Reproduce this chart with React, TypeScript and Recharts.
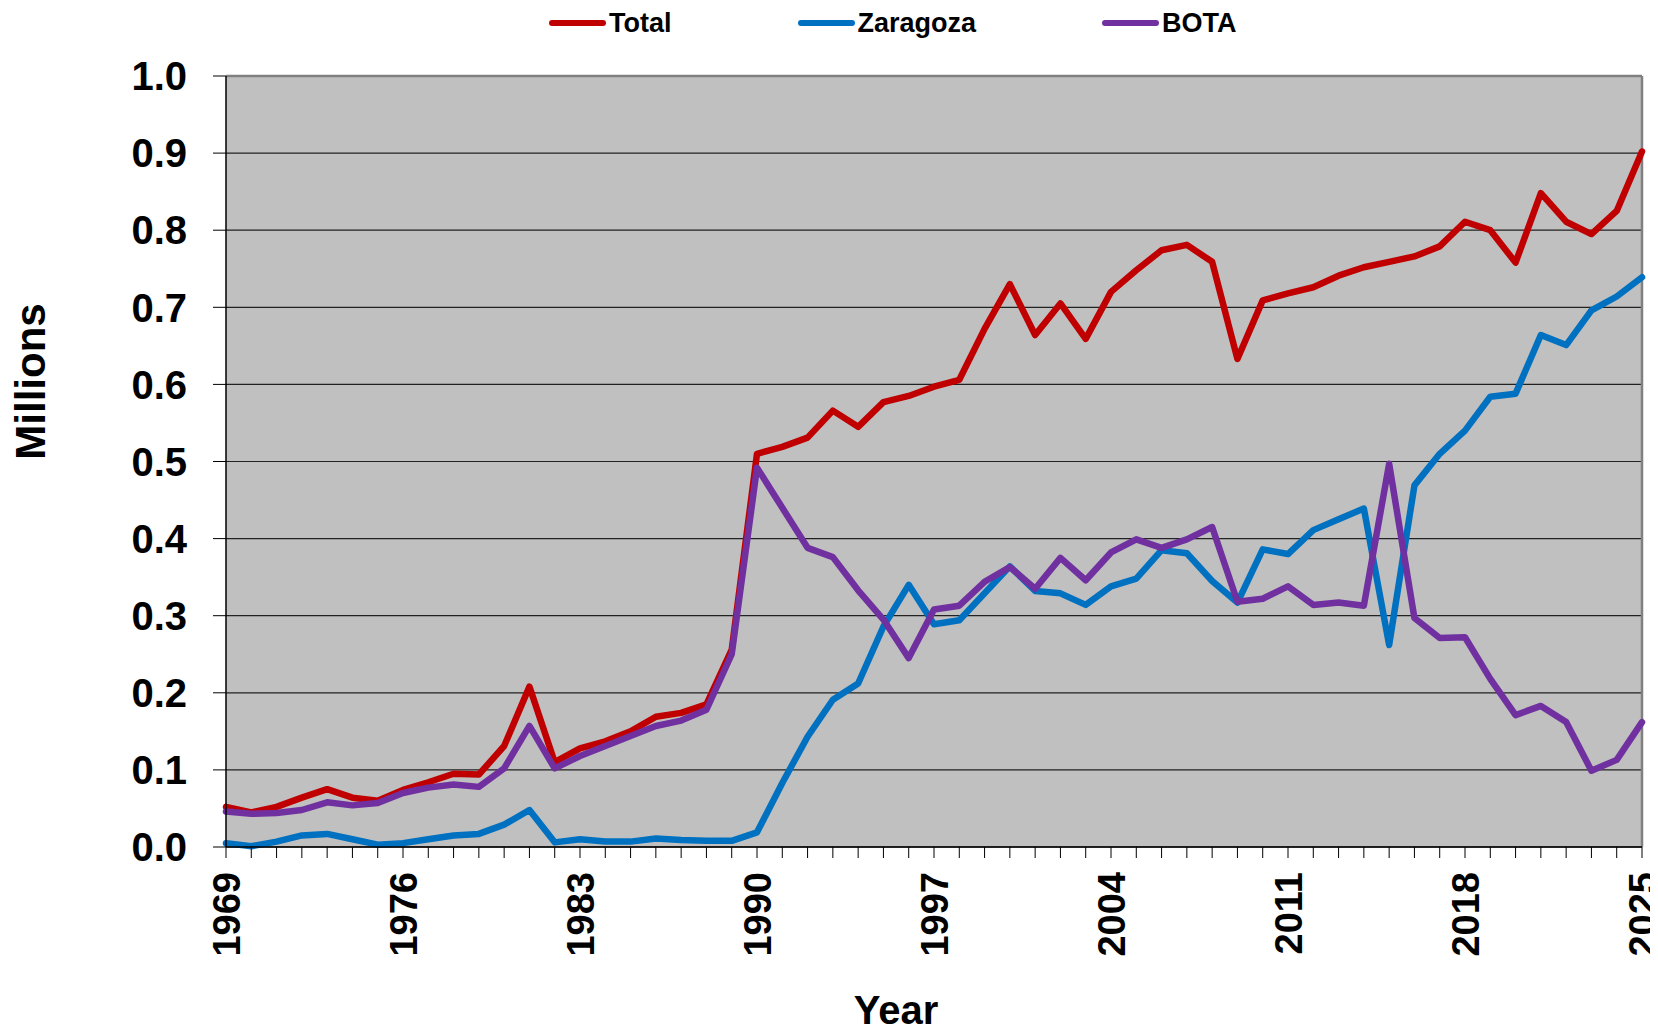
import React from 'react';
import { LineChart, Line, XAxis, YAxis, CartesianGrid, Legend, ReferenceLine } from 'recharts';

const years = [
  1969, 1970, 1971, 1972, 1973, 1974, 1975, 1976, 1977, 1978, 1979,
  1980, 1981, 1982, 1983, 1984, 1985, 1986, 1987, 1988, 1989,
  1990, 1991, 1992, 1993, 1994, 1995, 1996, 1997, 1998, 1999,
  2000, 2001, 2002, 2003, 2004, 2005, 2006, 2007, 2008, 2009,
  2010, 2011, 2012, 2013, 2014, 2015, 2016, 2017, 2018, 2019,
  2020, 2021, 2022, 2023, 2024, 2025,
];

const total = [
  0.052, 0.045, 0.052, 0.064, 0.075, 0.064, 0.060, 0.074, 0.084, 0.095, 0.094,
  0.131, 0.208, 0.110, 0.128, 0.137, 0.150, 0.169, 0.174, 0.185, 0.256,
  0.510, 0.519, 0.531, 0.566, 0.545, 0.577, 0.585, 0.597, 0.606, 0.672,
  0.730, 0.664, 0.705, 0.659, 0.720, 0.748, 0.774, 0.781, 0.759, 0.633,
  0.709, 0.718, 0.726, 0.741, 0.752, 0.759, 0.766, 0.779, 0.811, 0.800,
  0.758, 0.848, 0.811, 0.795, 0.825, 0.902,
];

const zaragoza = [
  0.005, 0.001, 0.007, 0.015, 0.017, 0.010, 0.003, 0.005, 0.010, 0.015, 0.017,
  0.029, 0.048, 0.006, 0.010, 0.007, 0.007, 0.011, 0.009, 0.008, 0.008,
  0.019, 0.083, 0.143, 0.191, 0.212, 0.286, 0.340, 0.289, 0.294, 0.329,
  0.364, 0.332, 0.329, 0.314, 0.338, 0.348, 0.385, 0.381, 0.345, 0.317,
  0.386, 0.380, 0.411, 0.425, 0.439, 0.262, 0.469, 0.510, 0.540, 0.584,
  0.588, 0.664, 0.651, 0.696, 0.714, 0.739,
];

const bota = [
  0.046, 0.043, 0.044, 0.048, 0.058, 0.054, 0.057, 0.070, 0.077, 0.081, 0.078,
  0.102, 0.157, 0.102, 0.118, 0.131, 0.144, 0.157, 0.164, 0.178, 0.250,
  0.492, 0.440, 0.388, 0.376, 0.333, 0.295, 0.245, 0.308, 0.313, 0.344,
  0.363, 0.335, 0.375, 0.346, 0.382, 0.399, 0.388, 0.399, 0.415, 0.318,
  0.322, 0.338, 0.314, 0.317, 0.313, 0.497, 0.297, 0.271, 0.272, 0.218,
  0.171, 0.183, 0.162, 0.099, 0.113, 0.162,
];

const labeledYears = [1969, 1976, 1983, 1990, 1997, 2004, 2011, 2018, 2025];
const yTicks = [0, 0.1, 0.2, 0.3, 0.4, 0.5, 0.6, 0.7, 0.8, 0.9, 1.0];

const seriesInfo = [
  { key: 'total', name: 'Total', color: '#C00000' },
  { key: 'zaragoza', name: 'Zaragoza', color: '#0070C0' },
  { key: 'bota', name: 'BOTA', color: '#7030A0' },
];

const data = years.map((year, i) => ({
  year,
  total: total[i],
  zaragoza: zaragoza[i],
  bota: bota[i],
}));

const FONT = '"Liberation Sans", Arial, Helvetica, sans-serif';

const YearTick = (props: any) => {
  const { x, y, payload } = props;
  if (!labeledYears.includes(payload.value)) return null;
  return (
    <text
      x={x}
      y={y}
      transform={`rotate(-90, ${x}, ${y})`}
      textAnchor="end"
      dy="0.36em"
      fill="#000"
      fontSize={38}
      fontWeight="bold"
      fontFamily={FONT}
    >
      {payload.value}
    </text>
  );
};

const YearLabel = (props: any) => {
  const { viewBox } = props;
  const cx = viewBox.x + viewBox.width / 2 - 38;
  const by = viewBox.y + viewBox.height - 1;
  return (
    <text x={cx} y={by} textAnchor="middle" fill="#000" fontSize={40} fontWeight="bold" fontFamily={FONT}>
      Year
    </text>
  );
};

const MillionsLabel = (props: any) => {
  const { viewBox } = props;
  const cx = 22;
  const cy = viewBox.y + viewBox.height / 2 - 80;
  return (
    <text
      x={cx}
      y={cy}
      transform={`rotate(-90, ${cx}, ${cy})`}
      textAnchor="middle"
      dy="0.36em"
      fill="#000"
      fontSize={42}
      fontWeight="bold"
      fontFamily={FONT}
    >
      Millions
    </text>
  );
};

const LegendContent = () => (
  <div
    style={{
      display: 'flex',
      gap: 126,
      paddingLeft: 541,
      height: 30,
      alignItems: 'center',
      fontFamily: FONT,
    }}
  >
    {seriesInfo.map((s) => (
      <div key={s.key} style={{ display: 'flex', alignItems: 'center' }}>
        <div style={{ width: 57, height: 6, borderRadius: 3, background: s.color, marginRight: 3 }} />
        <span style={{ fontSize: 27, fontWeight: 'bold', color: '#000', lineHeight: '30px' }}>{s.name}</span>
      </div>
    ))}
  </div>
);

export default function App() {
  return (
    <LineChart
      width={1650}
      height={1017}
      data={data}
      margin={{ top: 38, right: 16, bottom: 0, left: 0 }}
    >
      <CartesianGrid
        vertical={false}
        stroke="#222"
        strokeWidth={1.2}
        fill="#C0C0C0"
        fillOpacity={1}
      />
      <XAxis
        dataKey="year"
        type="number"
        domain={[1969, 2025]}
        ticks={years}
        interval={0}
        height={178}
        tickSize={11}
        tickMargin={14}
        axisLine={{ stroke: '#000', strokeWidth: 1.5 }}
        tickLine={{ stroke: '#000', strokeWidth: 1 }}
        tick={<YearTick />}
        label={<YearLabel />}
        allowDecimals={false}
      />
      <YAxis
        type="number"
        domain={[0, 1]}
        ticks={yTicks}
        width={218}
        tickSize={13}
        tickMargin={26}
        interval={0}
        axisLine={{ stroke: '#000', strokeWidth: 1.5 }}
        tickLine={{ stroke: '#000', strokeWidth: 1 }}
        tickFormatter={(v: number) => v.toFixed(1)}
        tick={{ fill: '#000', fontSize: 40, fontWeight: 'bold', fontFamily: FONT }}
        label={<MillionsLabel />}
      />
      <ReferenceLine y={1} stroke="#808080" strokeWidth={2.5} />
      <ReferenceLine x={2025} stroke="#808080" strokeWidth={2.5} />
      <Legend verticalAlign="top" align="left" wrapperStyle={{ top: 0, left: 0 }} content={<LegendContent />} />
      {seriesInfo.map((s) => (
        <Line
          key={s.key}
          type="linear"
          dataKey={s.key}
          name={s.name}
          stroke={s.color}
          strokeWidth={6.5}
          strokeLinejoin="round"
          strokeLinecap="round"
          dot={false}
          activeDot={false}
          isAnimationActive={false}
        />
      ))}
    </LineChart>
  );
}
